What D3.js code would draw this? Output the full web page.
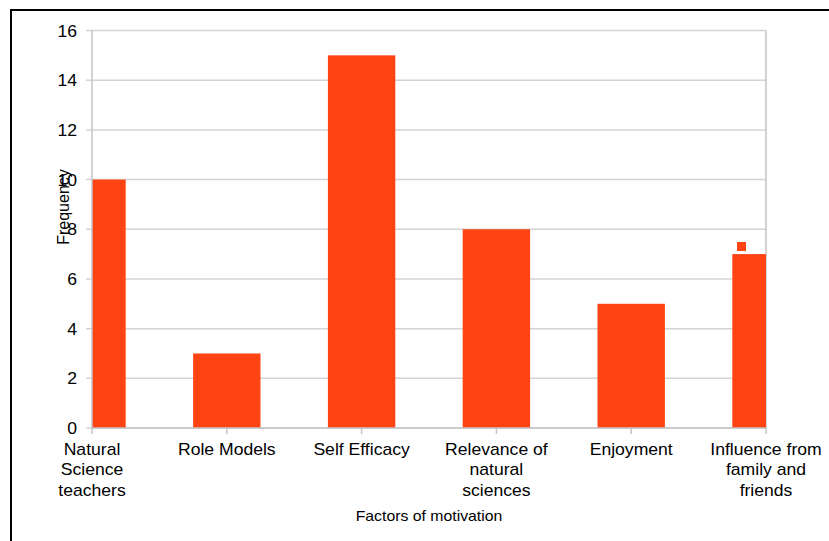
<!DOCTYPE html>
<html lang="en">
<head>
  <meta charset="UTF-8" />
  <title>Factors of motivation</title>
  <script src="https://d3js.org/d3.v7.min.js"></script>
  <style>
    body, html {
      margin: 0;
      padding: 0;
      background: #fff;
    }
    svg {
      display: block;
      font-family: "Liberation Sans", Arial, sans-serif;
    }
  </style>
</head>
<body>
  <svg id="chart" width="829" height="541"></svg>
  <script>
    // Data
    const categories = [
      'Natural Science teachers',
      'Role Models',
      'Self Efficacy',
      'Relevance of natural sciences',
      'Enjoyment',
      'Influence from family and friends'
    ];
    const labelLines = [
      ['Natural', 'Science', 'teachers'],
      ['Role Models'],
      ['Self Efficacy'],
      ['Relevance of', 'natural', 'sciences'],
      ['Enjoyment'],
      ['Influence from', 'family and', 'friends']
    ];
    const frequency = [10, 3, 15, 8, 5, 7];
    const yTicks = [0, 2, 4, 6, 8, 10, 12, 14, 16];

    const barColor = '#ff4413';
    const stretch = 1.1; // the original text is a bit wider than it is tall
    const margin = { left: 92, right: 766, top: 30.5, bottom: 428 };

    const svg = d3.select('#chart');

    // Outer frame
    svg.append('rect')
      .attr('x', 11).attr('y', 10)
      .attr('width', 830).attr('height', 540)
      .attr('fill', 'none')
      .attr('stroke', '#000')
      .attr('stroke-width', 2);

    const x = d3.scalePoint()
      .domain(categories)
      .range([margin.left, margin.right])
      .padding(0);

    const y = d3.scaleLinear()
      .domain([0, 16])
      .range([margin.bottom, margin.top]);

    const step = x.step();
    const barW = step / 2;

    // Clip bars to the plot area
    svg.append('clipPath').attr('id', 'plot-clip')
      .append('rect')
      .attr('x', margin.left).attr('y', margin.top)
      .attr('width', margin.right - margin.left)
      .attr('height', margin.bottom - margin.top);

    // Gridlines
    svg.append('g')
      .selectAll('line')
      .data(yTicks)
      .enter().append('line')
      .attr('x1', margin.left - 6)
      .attr('x2', margin.right)
      .attr('y1', d => y(d))
      .attr('y2', d => y(d))
      .attr('stroke', '#d4d4d4')
      .attr('stroke-width', 1.5);

    // Right edge of the plot area
    svg.append('line')
      .attr('x1', margin.right).attr('x2', margin.right)
      .attr('y1', margin.top).attr('y2', margin.bottom)
      .attr('stroke', '#c4c4c4')
      .attr('stroke-width', 1.5);

    // Bars
    svg.append('g')
      .attr('clip-path', 'url(#plot-clip)')
      .selectAll('rect')
      .data(frequency)
      .enter().append('rect')
      .attr('x', (d, i) => x(categories[i]) - barW / 2)
      .attr('y', d => y(d))
      .attr('width', barW)
      .attr('height', d => y(0) - y(d))
      .attr('fill', barColor);

    // Y axis line
    svg.append('line')
      .attr('x1', margin.left).attr('x2', margin.left)
      .attr('y1', margin.top).attr('y2', margin.bottom)
      .attr('stroke', '#c4c4c4')
      .attr('stroke-width', 1.5);

    // X axis line + ticks
    svg.append('line')
      .attr('x1', margin.left).attr('x2', margin.right)
      .attr('y1', margin.bottom).attr('y2', margin.bottom)
      .attr('stroke', '#c4c4c4')
      .attr('stroke-width', 1.5);

    svg.append('g')
      .selectAll('line')
      .data(categories)
      .enter().append('line')
      .attr('x1', d => x(d)).attr('x2', d => x(d))
      .attr('y1', margin.bottom).attr('y2', margin.bottom + 6)
      .attr('stroke', '#c4c4c4')
      .attr('stroke-width', 1.5);

    // Y tick labels
    svg.append('g')
      .selectAll('text')
      .data(yTicks)
      .enter().append('text')
      .attr('transform', d => `translate(77,${y(d) + 6}) scale(${stretch},1)`)
      .attr('text-anchor', 'end')
      .attr('font-size', 16)
      .attr('fill', '#000')
      .text(d => d);

    // X tick labels (wrapped)
    const xl = svg.append('g')
      .selectAll('text')
      .data(categories)
      .enter().append('text')
      .attr('transform', d => `translate(${x(d)},455) scale(${stretch},1)`)
      .attr('text-anchor', 'middle')
      .attr('font-size', 16)
      .attr('fill', '#000');

    xl.each(function(d, i) {
      const t = d3.select(this);
      labelLines[i].forEach((line, j) => {
        t.append('tspan')
          .attr('x', 0)
          .attr('y', j * 20.5)
          .text(line);
      });
    });

    // Axis titles
    svg.append('text')
      .attr('transform', 'translate(429,521) scale(1.13,1)')
      .attr('text-anchor', 'middle')
      .attr('font-size', 14)
      .text('Factors of motivation');

    svg.append('text')
      .attr('transform', 'translate(68.5,207) rotate(-90)')
      .attr('text-anchor', 'middle')
      .attr('font-size', 16)
      .text('Frequency');

    // Stray legend marker
    svg.append('rect')
      .attr('x', 737).attr('y', 242)
      .attr('width', 9).attr('height', 9)
      .attr('fill', barColor);
  </script>
</body>
</html>
